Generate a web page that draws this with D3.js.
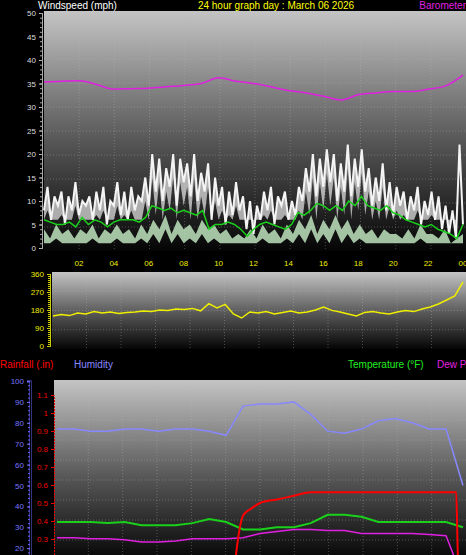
<!DOCTYPE html><html><head><meta charset="utf-8">
<script src="https://cdn.jsdelivr.net/npm/d3@7"></script>
<style>body{margin:0;background:#000}svg{display:block}text{font-family:"Liberation Sans",Arial,sans-serif}</style></head><body>
<script>
const hourTicks=["02","04","06","08","10","12","14","16","18","20","22","00"];
const gust=[8,13,6,11,9,12,5,11,8,14,7,10,9,11,6,12,8,13,5,10,9,14,7,12,6,13,8,11,10,15,9,20,12,19,10,17,13,20,9,19,14,18,11,20,10,16,12,18,6,15,9,13,5,12,7,14,8,11,4,10,3,9,6,12,8,13,5,11,9,12,6,10,7,13,10,17,12,20,11,19,13,21,14,20,10,18,12,22,11,19,13,21,12,17,9,15,10,18,8,14,7,13,9,12,6,11,8,13,5,10,7,12,6,11,4,9,3,8,2,22,5];
const avg=[6,5.5,5,5,5.5,4.5,6.5,5,6,5.5,4.5,5.5,6,6,6,5.5,6.5,9,8.5,8,8.5,7.5,8,7.5,7,8,4,5,5,5.5,5,4,2.5,4,5,5.5,5,4.5,4,5,7.5,7,8,9.5,9,8,9,8,10,9,11,9,8.5,8,9,7.5,7,6,5.5,5,4.5,5,4,3.5,3,2,5];
const lull=[3,1,4,2,3,1,3,2,4,1,3,2,4,2,3,1,4,2,5,3,6,2,5,3,4,2,5,3,4,2,3,1,2,1,3,1,4,2,3,1,4,2,5,3,6,2,5,3,6,3,5,2,4,2,3,1,3,2,2,1,3,1,4,2,2,1,3,0,1,2];
const baro=[35.3,35.5,35.6,34.8,33.8,33.9,34,34.3,34.6,35,36.2,35.5,35,34.3,33.5,33,32.3,31.5,32.6,33,33.3,33.3,33.8,34.5,36.8];
const dir=[150,158,152,165,160,172,165,170,162,168,170,175,172,180,178,185,182,188,176,212,190,208,160,140,170,165,172,160,168,175,165,170,180,195,178,170,160,150,168,172,165,160,170,178,172,185,195,210,230,250,320];
const hum=[77,77,76,76,77,77,76,77,77,76,74,88,89,89,90,84,76,75,77,81,82,80,77,77,50];
const temp=[32.5,32.5,32.5,32,32.5,31,31,31,32,34,32.5,29,29,30,30,32,36,36,35,32.5,32.5,32.5,32.5,32.5,30];
const dew=[25,25,24.5,24.5,24,23,23,23.5,24.5,24.5,24.5,25,27,28,29,29,28.5,28.5,27,27,27,27,26.5,26,5];
const rainH=[10.4,10.7,11,11.5,12,13,14,15,16,20,23.6,23.7,24];
const rain=[0.05,0.3,0.43,0.47,0.5,0.52,0.54,0.56,0.56,0.56,0.56,0.2,0];

const W=466,H=555;
const svg=d3.select("body").append("svg").attr("width",W).attr("height",H);
const defs=svg.append("defs");
const g=defs.append("linearGradient").attr("id","bg").attr("x1",0).attr("x2",0).attr("y1",0).attr("y2",1);
g.append("stop").attr("offset",0).attr("stop-color","#c4c4c4");
g.append("stop").attr("offset",0.55).attr("stop-color","#555");
g.append("stop").attr("offset",1).attr("stop-color","#050505");

function panel(x0,x1,y0,y1,nx,ny){
  svg.append("rect").attr("x",x0).attr("y",y0).attr("width",x1-x0).attr("height",y1-y0).attr("fill","url(#bg)");
  const gg=svg.append("g").attr("stroke","#bbb").attr("stroke-opacity",0.35).attr("stroke-dasharray","1,2");
  for(let i=1;i<nx;i++){const x=x0+(x1-x0)*i/nx;gg.append("line").attr("x1",x).attr("x2",x).attr("y1",y0).attr("y2",y1);}
  for(let i=1;i<ny;i++){const y=y0+(y1-y0)*i/ny;gg.append("line").attr("x1",x0).attr("x2",x1).attr("y1",y).attr("y2",y);}
}
function txt(x,y,s,c,a,sz){svg.append("text").attr("x",x).attr("y",y).attr("fill",c).attr("font-size",sz||10).attr("text-anchor",a||"start").text(s);}

const x1=d3.scaleLinear().domain([0,24]).range([44,463]);
const y1=d3.scaleLinear().domain([0,50]).range([248,13]);
panel(44,466,11,251,12,10);
const ax1=svg.append("g").attr("transform","translate(42,0)").call(d3.axisLeft(y1).tickValues(d3.range(0,51,5)).tickSize(3));
ax1.selectAll("text").attr("fill","#ddd").attr("font-size",8);ax1.selectAll("line,path").attr("stroke","#ccc");
svg.append("g").attr("transform","translate(42,0)").call(d3.axisLeft(y1).ticks(50).tickSize(2).tickFormat("")).selectAll("line,path").attr("stroke","#aaa");
hourTicks.forEach((t,i)=>txt(x1((i+1)*2),266,t,"#ee0","middle",8));
const ln=(xs,ys,d)=>d3.line().x((v,i)=>xs(i*24/(d.length-1))).y(v=>ys(v));
svg.append("path").datum(gust).attr("d",d3.area().x((v,i)=>x1(i*24/(gust.length-1))).y0(v=>y1(Math.max(v-5,6))).y1(v=>y1(v))).attr("fill","#e8e8e8").attr("fill-opacity",0.7);
svg.append("path").datum(gust).attr("d",ln(x1,y1,gust)).attr("fill","none").attr("stroke","#f4f4f4").attr("stroke-width",2);
svg.append("path").datum(lull).attr("d",d3.area().x((v,i)=>x1(i*24/(lull.length-1))).y0(v=>y1(Math.max(v-2,1))).y1(v=>y1(v+1))).attr("fill","#c8f0c8").attr("fill-opacity",0.8);
svg.append("path").datum(avg).attr("d",ln(x1,y1,avg)).attr("fill","none").attr("stroke","#1ad01a").attr("stroke-width",1.5);
svg.append("path").datum(baro).attr("d",ln(x1,y1,baro).curve(d3.curveMonotoneX)).attr("fill","none").attr("stroke","#e020e0").attr("stroke-width",1.5);
txt(38,9,"Windspeed (mph)","#fff","start",10);
txt(276,9,"24 hour graph day : March 06 2026","#ff0","middle",10);
txt(466,9,"Barometer","#e020e0","end",10);

const x2=d3.scaleLinear().domain([0,24]).range([53,463]);
const y2=d3.scaleLinear().domain([0,360]).range([346,274]);
panel(52,466,272,349,12,4);
const ax2=svg.append("g").attr("transform","translate(50,0)").call(d3.axisLeft(y2).tickValues([0,90,180,270,360]).tickSize(3));
ax2.selectAll("text").attr("fill","#ee0").attr("font-size",8);ax2.selectAll("line,path").attr("stroke","#cc0");
svg.append("g").attr("transform","translate(50,0)").call(d3.axisLeft(y2).ticks(36).tickSize(2).tickFormat("")).selectAll("line,path").attr("stroke","#cc0");
svg.append("path").datum(dir).attr("d",ln(x2,y2,dir)).attr("fill","none").attr("stroke","#ee0").attr("stroke-width",1.5);

txt(0,368,"Rainfall (.in)","#f00","start",10);
txt(74,368,"Humidity","#88f","start",10);
txt(348,368,"Temperature (°F)","#2e2","start",10);
txt(437,368,"Dew Point","#e020e0","start",10);
const x3=d3.scaleLinear().domain([0,24]).range([57,463]);
const yh=d3.scaleLinear().domain([0,100]).range([590,381]);
const yr=d3.scaleLinear().domain([0,1.1]).range([593,395]);
panel(54,466,380,560,12,9);
const ah=svg.append("g").attr("transform","translate(30,0)").call(d3.axisLeft(yh).tickValues(d3.range(20,101,10)).tickSize(3));
ah.selectAll("text").attr("fill","#77f").attr("font-size",8);ah.selectAll("line").attr("stroke","#77f");ah.select("path").attr("stroke","#66f").attr("stroke-width",2);
svg.append("g").attr("transform","translate(30,0)").call(d3.axisLeft(yh).ticks(50).tickSize(2).tickFormat("")).selectAll("line").attr("stroke","#66f");
const ar=svg.append("g").attr("transform","translate(54,0)").call(d3.axisLeft(yr).tickValues(d3.range(0.3,1.11,0.1)).tickFormat(d=>+d.toFixed(1)).tickSize(3));
ar.selectAll("text").attr("fill","#e00").attr("font-size",8);ar.selectAll("line").attr("stroke","#e00");ar.select("path").attr("stroke","#e00").attr("stroke-dasharray","2,1");
svg.append("path").datum(hum).attr("d",ln(x3,yh,hum)).attr("fill","none").attr("stroke","#8888ff").attr("stroke-width",1.5);
svg.append("path").datum(temp).attr("d",ln(x3,yh,temp)).attr("fill","none").attr("stroke","#1ad01a").attr("stroke-width",2);
svg.append("path").datum(dew).attr("d",ln(x3,yh,dew)).attr("fill","none").attr("stroke","#e020e0").attr("stroke-width",1.5);
svg.append("path").datum(rain).attr("d",d3.line().x((v,i)=>x3(rainH[i])).y(v=>yr(v)).curve(d3.curveMonotoneX)).attr("fill","none").attr("stroke","#f00").attr("stroke-width",2);
</script></body></html>
